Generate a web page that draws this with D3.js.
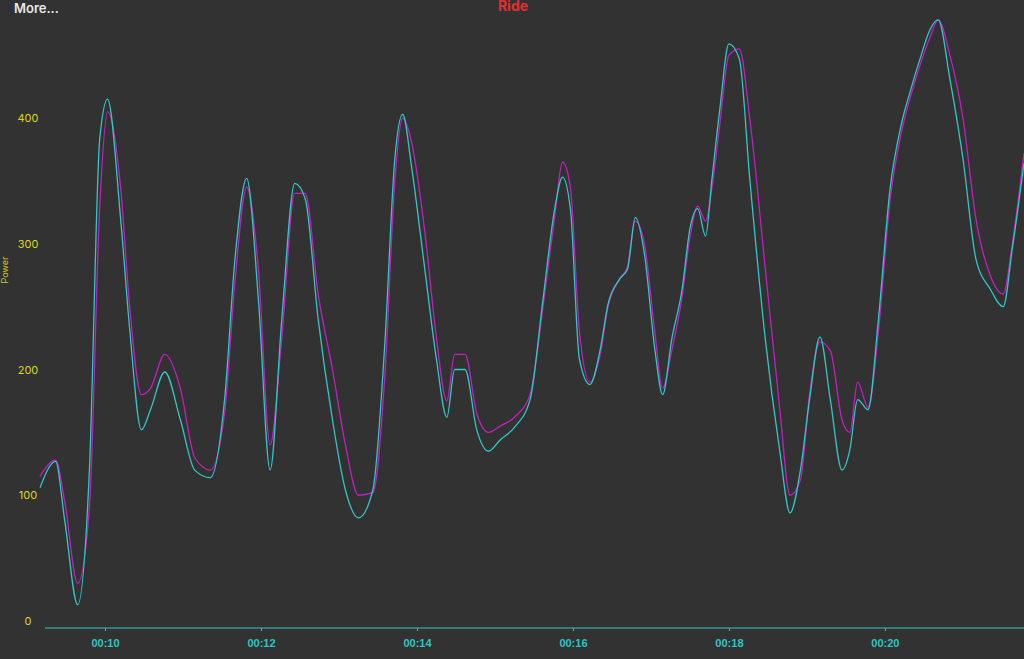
<!DOCTYPE html>
<html><head><meta charset="utf-8">
<script src="https://cdn.jsdelivr.net/npm/d3@7"></script>
<style>body{margin:0;background:#323232;overflow:hidden}svg{display:block;font-family:Inter,"Open Sans",sans-serif}</style>
</head><body><svg id="chart" width="1024" height="659"></svg>
<script>
// seconds into ride
const times = [550,562,569,579,588,596,602,612,619,628,635,646,658,669,681,692,700,709,718,727,736,746,754,764,775,785,795,806,815,823,829,836,846,855,863,869,877,886,895,904,915,927,937,946,952,958,965,973,981,987,996,1002,1008,1015,1023,1029,1036,1044,1050,1056,1062,1067,1073,1080,1088,1096,1108,1119,1127,1135,1142,1150,1158,1167,1173,1179,1187,1195,1204,1212,1220,1227,1235,1241,1250,1260,1270,1281,1291,1298,1307]
const power = [106,127,80,13,120,384,415,320,232,152,168,198,160,120,114,176,288,352,256,120,240,348,336,240,160,104,82,104,216,368,403,360,280,208,162,200,200,152,135,144,154,176,256,328,353,328,208,188,216,252,272,280,321,292,216,180,224,264,312,328,306,352,407,459,447,352,224,136,86,120,176,226,176,120,136,176,168,240,344,392,423,447,471,478,431,368,288,264,250,296,364]
const powerAvg = [115,128,95,30,90,330,405,345,250,180,185,212,185,130,120,165,270,345,280,140,225,340,340,260,200,140,100,102,190,350,400,380,310,225,175,212,212,165,150,155,162,180,250,322,365,345,230,190,212,250,272,282,318,300,230,185,215,258,305,330,318,345,395,450,455,400,280,170,100,112,180,222,215,160,150,190,170,230,335,385,418,442,465,478,450,400,320,275,260,300,372]
const yTicks = [0,100,200,300,400]
const xTicks = [600,720,840,960,1080,1200]

const svg = d3.select('#chart')
const x = d3.scaleLinear().domain([550,1307]).range([40,1024])
const y = d3.scaleLinear().domain([0,400]).range([621,118])

svg.append('text').attr('x',14).attr('y',13).attr('fill','#e8e8e8')
    .attr('font-size',13).attr('font-weight',600).text('More...')
svg.append('text').attr('x',513).attr('y',11).attr('fill','#e03030')
    .attr('font-size',14).attr('font-weight',700).attr('text-anchor','middle').text('Ride')
svg.append('text').attr('transform','translate(8,270) rotate(-90)').attr('fill','#c8c820')
    .attr('font-size',9).attr('text-anchor','middle').text('Power')

svg.selectAll('.yt').data(yTicks).join('text')
    .attr('x',28).attr('y',d => y(d)+4).attr('fill','#d8d820')
    .attr('font-size',11).attr('text-anchor','middle').text(d => d)

const xa = svg.append('g').attr('transform','translate(0,628)')
    .call(d3.axisBottom(x).tickValues(xTicks).tickSize(3)
        .tickFormat(d => '00:' + String(d/60).padStart(2,'0')))
xa.select('.domain').attr('stroke','#2ec4c4').attr('d','M45,0H1024')
xa.selectAll('line').attr('stroke','#2ec4c4')
xa.selectAll('text').attr('fill','#2ec4c4').attr('font-size',11).attr('font-weight',700).attr('dy','1.2em')

const line = vals => d3.line().x((d,i) => x(times[i])).y(d => y(d)).curve(d3.curveMonotoneX)(vals)
svg.append('path').attr('d',line(powerAvg)).attr('fill','none').attr('stroke','#c020c0').attr('stroke-width',1.3)
svg.append('path').attr('d',line(power)).attr('fill','none').attr('stroke','#30c8c8').attr('stroke-width',1.3)
</script></body></html>
